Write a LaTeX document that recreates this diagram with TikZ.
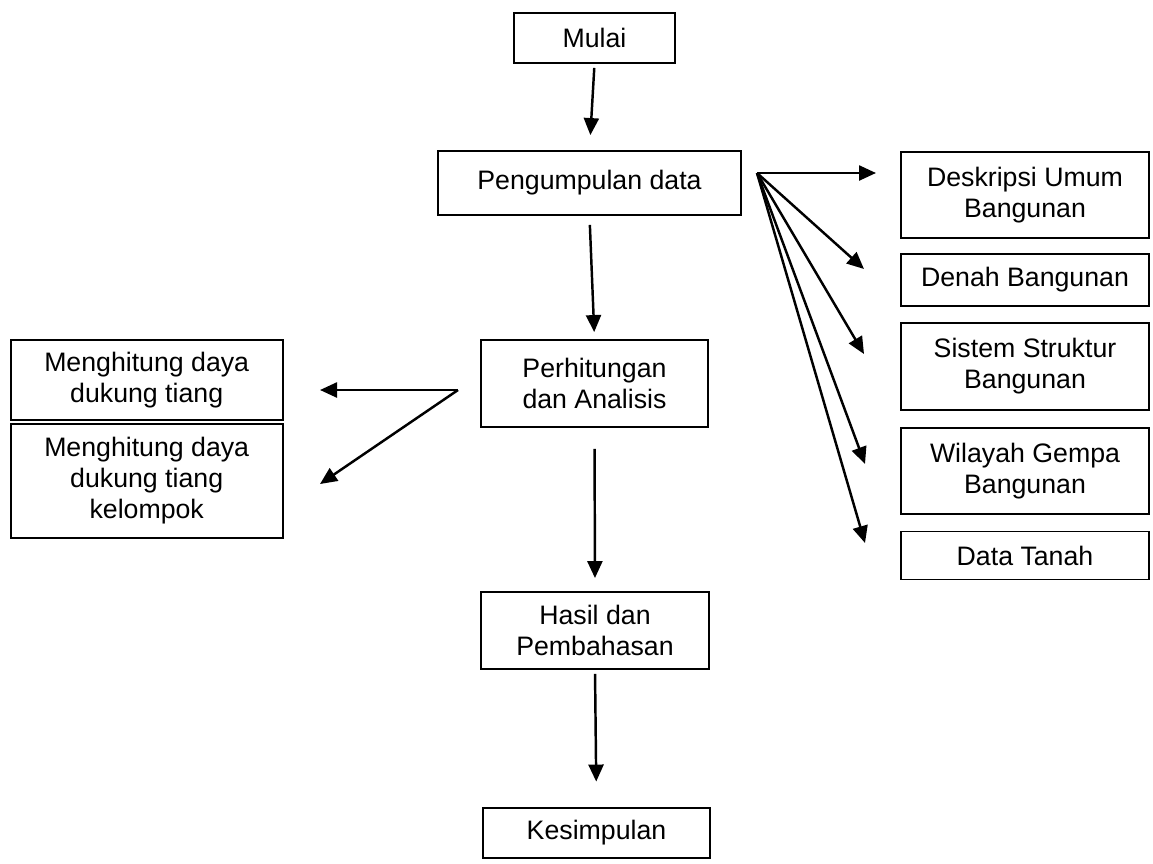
\documentclass[tikz,border=0pt]{standalone}
\usepackage{fontspec}
\setmainfont{Liberation Sans}
\usetikzlibrary{arrows.meta}

\tikzset{
    box/.style={draw, line width=1.1pt, align=center, inner sep=0pt},
    arr/.style={line width=1.4pt, -{Triangle[length=0.34cm, width=0.3cm]}}
}

\begin{document}
\begin{tikzpicture}[x=0.02cm, y=-0.02cm, font=\fontsize{15.2}{17.6}\selectfont]

        \useasboundingbox (0,0) rectangle (1153,863);

        % main column
        \node[box, minimum width=3.22cm, minimum height=1.00cm] (mulai) at (594.5,38) {Mulai};
        \node[box, minimum width=6.06cm, minimum height=1.28cm] (kumpul) at (589.5,183) {Pengumpulan data};
        \node[box, minimum width=4.54cm, minimum height=1.74cm] (hitung) at (594.5,383.5) {Perhitungan\\dan Analisis};
        \node[box, minimum width=4.56cm, minimum height=1.54cm] (hasil) at (595,630.5) {Hasil dan\\Pembahasan};
        \node[box, minimum width=4.54cm, minimum height=1.00cm] (simpul) at (596.5,833) {Kesimpulan};

        % data
        \node[box, minimum width=4.96cm, minimum height=1.72cm] (deskripsi) at (1025,195) {Deskripsi Umum\\Bangunan};
        \node[box, minimum width=4.96cm, minimum height=1.04cm] (denah) at (1025,280) {Denah Bangunan};
        \node[box, minimum width=4.96cm, minimum height=1.74cm] (sistem) at (1025,366.5) {Sistem Struktur\\Bangunan};
        \node[box, minimum width=4.96cm, minimum height=1.72cm] (wilayah) at (1025,471) {Wilayah Gempa\\Bangunan};
        \node[box, minimum width=4.96cm, minimum height=0.96cm] (tanah) at (1025,555.5) {Data Tanah};

        % analisis
        \node[box, minimum width=5.44cm, minimum height=1.60cm] (tiang) at (146.7,380) {Menghitung daya\\dukung tiang};
        \node[box, minimum width=5.44cm, minimum height=2.28cm] (kelompok) at (146.7,481) {Menghitung daya\\dukung tiang\\kelompok};

        \draw[arr, shorten <=0.08cm, shorten >=0.30cm] (mulai.south) -- (kumpul.north);
        \draw[arr, shorten <=0.18cm, shorten >=0.14cm] (kumpul.south) -- (hitung.north);
        \draw[arr, shorten <=0.42cm, shorten >=0.26cm] (hitung.south) -- (hasil.north);
        \draw[arr, shorten <=0.08cm, shorten >=0.51cm] (hasil.south) -- (simpul.north);

        \coordinate (fan) at (757,173);
        \coordinate (todeskripsi) at (876,173);
        \coordinate (todenah) at (864,269);
        \coordinate (tosistem) at (864,354);
        \coordinate (towilayah) at (865,464);
        \coordinate (totanah) at (865,543);
        \foreach \t in {todeskripsi, todenah, tosistem, towilayah, totanah}
            \draw[arr] (fan) -- (\t);

        \coordinate (split) at (458,390);
        \coordinate (totiang) at (320,390);
        \coordinate (tokelompok) at (320,484);
        \draw[arr] (split) -- (totiang);
        \draw[arr] (split) -- (tokelompok);

    \end{tikzpicture}
\end{document}
